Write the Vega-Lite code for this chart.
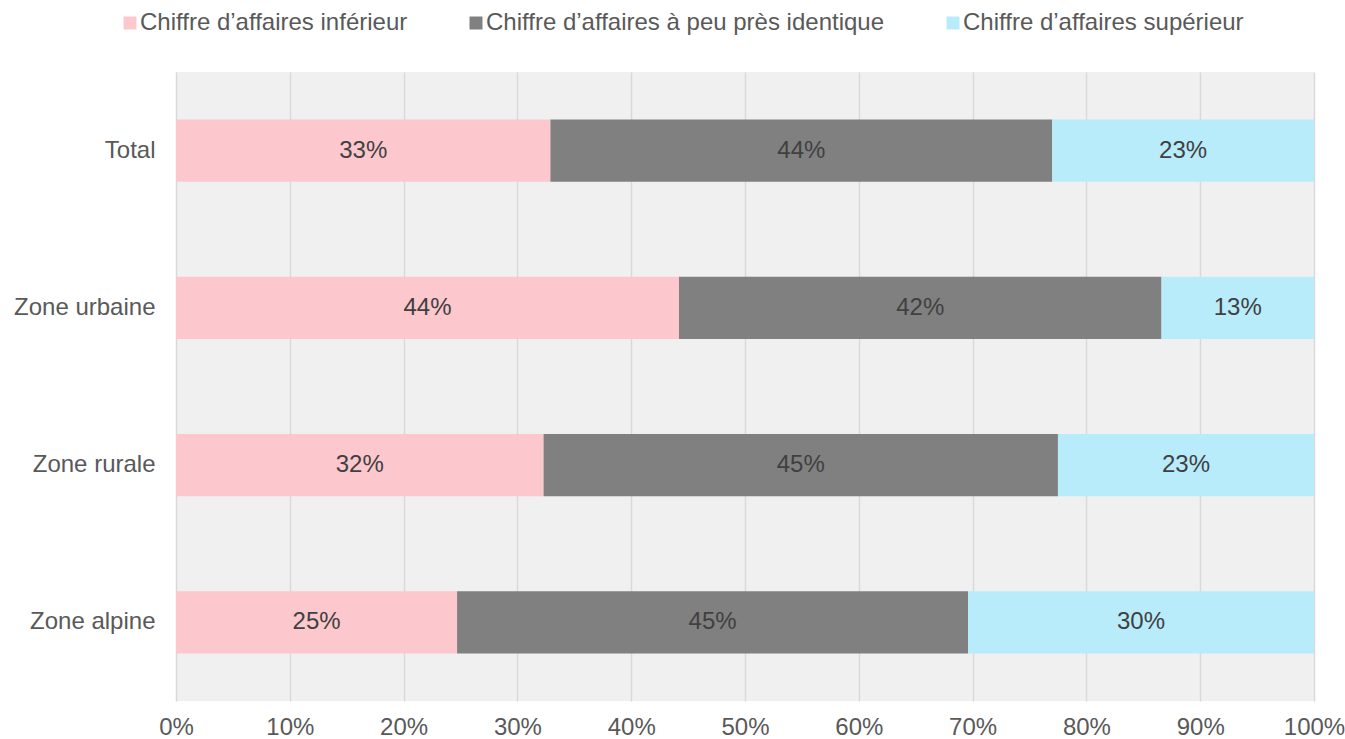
{
  "$schema": "https://vega.github.io/schema/vega-lite/v6.json",
  "width": 1138,
  "height": 629,
  "autosize": {"type": "none"},
  "padding": {"left": 176, "top": 72, "right": 31, "bottom": 38},
  "background": "white",
  "config": {
    "font": "Liberation Sans",
    "view": {"fill": "#F0F0F0", "stroke": null}
  },
  "data": {
    "values": [
      {"zone": "Total", "cat": "Chiffre d’affaires inférieur", "k": 1, "v": 0.329},
      {"zone": "Total", "cat": "Chiffre d’affaires à peu près identique", "k": 2, "v": 0.441},
      {"zone": "Total", "cat": "Chiffre d’affaires supérieur", "k": 3, "v": 0.230},
      {"zone": "Zone urbaine", "cat": "Chiffre d’affaires inférieur", "k": 1, "v": 0.442},
      {"zone": "Zone urbaine", "cat": "Chiffre d’affaires à peu près identique", "k": 2, "v": 0.424},
      {"zone": "Zone urbaine", "cat": "Chiffre d’affaires supérieur", "k": 3, "v": 0.134},
      {"zone": "Zone rurale", "cat": "Chiffre d’affaires inférieur", "k": 1, "v": 0.323},
      {"zone": "Zone rurale", "cat": "Chiffre d’affaires à peu près identique", "k": 2, "v": 0.452},
      {"zone": "Zone rurale", "cat": "Chiffre d’affaires supérieur", "k": 3, "v": 0.225},
      {"zone": "Zone alpine", "cat": "Chiffre d’affaires inférieur", "k": 1, "v": 0.247},
      {"zone": "Zone alpine", "cat": "Chiffre d’affaires à peu près identique", "k": 2, "v": 0.449},
      {"zone": "Zone alpine", "cat": "Chiffre d’affaires supérieur", "k": 3, "v": 0.304}
    ]
  },
  "transform": [
    {"stack": "v", "groupby": ["zone"], "sort": [{"field": "k"}], "as": ["v0", "v1"]},
    {"calculate": "(datum.v0 + datum.v1) / 2", "as": "mid"}
  ],
  "encoding": {
    "y": {
      "field": "zone",
      "type": "nominal",
      "sort": ["Total", "Zone urbaine", "Zone rurale", "Zone alpine"],
      "scale": {"paddingInner": 0.605, "paddingOuter": 0.3025},
      "axis": {
        "title": null,
        "domain": false,
        "ticks": false,
        "labelFontSize": 24,
        "labelColor": "#595959",
        "labelPadding": 21,
        "grid": false
      }
    }
  },
  "layer": [
    {
      "mark": {"type": "bar"},
      "encoding": {
        "x": {
          "field": "v0",
          "type": "quantitative",
          "scale": {"domain": [0, 1], "nice": false},
          "axis": {
            "title": null,
            "format": ".0%",
            "values": [0, 0.1, 0.2, 0.3, 0.4, 0.5, 0.6, 0.7, 0.8, 0.9, 1],
            "domain": false,
            "ticks": false,
            "grid": true,
            "gridColor": "#D9D9D9",
            "gridWidth": 1.5,
            "labelFontSize": 24,
            "labelColor": "#595959",
            "labelPadding": 14,
            "labelFlush": false
          }
        },
        "x2": {"field": "v1"},
        "color": {
          "field": "cat",
          "type": "nominal",
          "sort": ["Chiffre d’affaires inférieur", "Chiffre d’affaires à peu près identique", "Chiffre d’affaires supérieur"],
          "scale": {
            "domain": ["Chiffre d’affaires inférieur", "Chiffre d’affaires à peu près identique", "Chiffre d’affaires supérieur"],
            "range": ["#FCC8CD", "#808080", "#B9ECFB"]
          },
          "legend": {
            "title": null,
            "orient": "none",
            "direction": "horizontal",
            "legendX": -58,
            "legendY": -61,
            "symbolType": "square",
            "symbolSize": 169,
            "symbolStrokeWidth": 0,
            "labelFontSize": 24,
            "labelColor": "#595959",
            "labelOffset": -2,
            "columnPadding": 56,
            "labelLimit": 600
          }
        }
      }
    },
    {
      "mark": {"type": "text", "fontSize": 24, "color": "#404040", "align": "center", "baseline": "middle"},
      "encoding": {
        "x": {"field": "mid", "type": "quantitative"},
        "text": {"field": "v", "type": "quantitative", "format": ".0%"}
      }
    }
  ]
}
